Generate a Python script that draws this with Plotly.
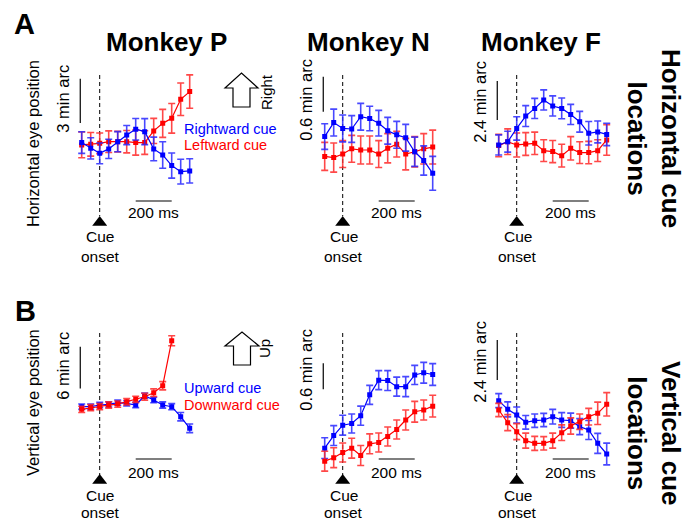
import plotly.graph_objects as go

W, H = 691, 523
FONT = "Liberation Sans, Arial, sans-serif"
BLUE = "#0000ff"
RED = "#ff0000"
BLUE_ERR = "rgba(40,40,255,0.85)"
RED_ERR = "rgba(255,40,40,0.85)"

# ---------------- data (time in ms relative to cue onset, position in min arc) --------------
time_ms = [-100, -50, 0, 50, 100, 150, 200, 250, 300, 350, 400, 450, 500]

# Panel A: horizontal cue locations (blue = rightward cue, red = leftward cue)
ap_blue = [0.05, -0.34, -0.68, -0.38, 0.11, 0.56, 0.95, 0.79, -0.38, -0.79, -1.51, -1.92, -1.87]
ap_blue_err = [0.73, 0.72, 0.70, 0.65, 0.68, 0.65, 0.73, 0.88, 0.80, 0.90, 0.85, 0.84, 0.82]
ap_red = [-0.11, -0.07, 0.00, 0.11, 0.11, 0.11, 0.05, 0.05, 0.84, 1.35, 1.69, 2.98, 3.50]
ap_red_err = [0.87, 0.80, 0.70, 0.73, 0.70, 0.76, 0.85, 0.80, 0.85, 0.95, 1.00, 1.10, 1.13]

an_blue = [0.23, 0.47, 0.37, 0.36, 0.57, 0.54, 0.46, 0.33, 0.26, 0.21, -0.03, -0.18, -0.40]
an_blue_err = [0.22, 0.23, 0.23, 0.23, 0.23, 0.21, 0.22, 0.23, 0.23, 0.23, 0.25, 0.25, 0.29]
an_red = [-0.11, -0.13, -0.07, 0.02, 0.00, 0.00, -0.07, 0.03, 0.10, -0.07, -0.03, 0.02, 0.05]
an_red_err = [0.24, 0.25, 0.23, 0.23, 0.24, 0.24, 0.23, 0.25, 0.22, 0.27, 0.26, 0.26, 0.29]

af_blue = [0.31, 0.51, 1.33, 2.09, 2.56, 3.08, 2.71, 2.56, 2.19, 1.74, 1.03, 1.11, 0.96]
af_blue_err = [0.62, 0.64, 0.72, 0.64, 0.62, 0.62, 0.62, 0.64, 0.62, 0.64, 0.72, 0.67, 0.69]
af_red = [0.27, 0.51, 0.31, 0.37, 0.41, -0.04, -0.10, -0.35, 0.10, -0.16, -0.16, -0.04, 0.62]
af_red_err = [0.69, 0.79, 0.74, 0.70, 0.69, 0.67, 0.68, 0.70, 0.72, 0.67, 0.69, 0.67, 0.94]

# Panel B: vertical cue locations (blue = upward cue, red = downward cue)
bp_blue = [0.00, 0.00, 0.24, 0.34, 0.58, 0.48, 0.24, 1.58, 0.96, 0.24, 0.00, -1.44, -3.12]
bp_blue_err = [0.38, 0.38, 0.38, 0.38, 0.38, 0.38, 0.38, 0.40, 0.40, 0.45, 0.45, 0.60, 0.62]
bp_red = [-0.38, -0.14, 0.00, 0.24, 0.38, 0.72, 1.06, 1.44, 2.02, 3.02, 9.51]
bp_red_err = [0.45, 0.45, 0.45, 0.45, 0.45, 0.45, 0.45, 0.50, 0.55, 0.60, 0.72]

bn_blue = [-0.65, -0.36, -0.12, -0.08, 0.10, 0.58, 0.92, 0.91, 0.77, 0.77, 1.04, 1.09, 1.05]
bn_blue_err = [0.24, 0.23, 0.23, 0.22, 0.22, 0.22, 0.22, 0.23, 0.22, 0.23, 0.22, 0.24, 0.25]
bn_red = [-0.95, -0.87, -0.75, -0.65, -0.82, -0.55, -0.52, -0.38, -0.22, 0.00, 0.19, 0.23, 0.32]
bn_red_err = [0.23, 0.23, 0.22, 0.23, 0.23, 0.23, 0.22, 0.22, 0.22, 0.23, 0.24, 0.23, 0.25]

bf_blue = [1.16, 0.64, 0.30, -0.14, -0.04, 0.00, 0.20, 0.00, -0.04, -0.40, -0.60, -1.40, -2.04]
bf_blue_err = [0.42, 0.45, 0.48, 0.41, 0.40, 0.40, 0.44, 0.44, 0.45, 0.48, 0.57, 0.60, 0.65]
bf_red = [0.60, -0.16, -0.70, -1.24, -1.40, -1.40, -1.24, -0.76, -0.36, -0.10, 0.20, 0.40, 0.94]
bf_red_err = [0.40, 0.48, 0.48, 0.45, 0.42, 0.40, 0.45, 0.47, 0.49, 0.46, 0.50, 0.67, 0.70]

monkeys = ["Monkey P", "Monkey N", "Monkey F"]
scale_labels_A = ["3 min arc", "0.6 min arc", "2.4 min arc"]
scale_labels_B = ["6 min arc", "0.6 min arc", "2.4 min arc"]
scale_len_A = [3.0, 0.6, 2.4]
scale_len_B = [6.0, 0.6, 2.4]
scale_lo_A = [1.37, 0.657, 1.85]
scale_lo_B = [2.64, 0.71, 2.4]
time_bar_ms = [200, 400]
scale_bar_t = -108
cue_onset_ms = 0

# ---------------- layout geometry (pixels) ----------------
PX_PER_MS = 0.18
t0_px = [99.7, 342.7, 516.7]
rowA = dict(v0=[143.3, 150.0, 150.0], ppu=[14.77, 58.33, 16.25], top=50, bottom=268,
            dash=(75, 216), tri=222.5, timebar=201, timetxt=212, cue_top=226.5, onset_top=245.5,
            scale_txt_y=[99, 100, 102])
rowB = dict(v0=[406.7, 420.0, 420.0], ppu=[6.94, 43.33, 16.67], top=312, bottom=523,
            dash=(333, 475), tri=480.5, timebar=459, timetxt=472, cue_top=484.5, onset_top=502,
            scale_txt_y=[366, 370, 362])

fig = go.Figure()
annotations = []
shapes = []

def txt(x, y, text, size, bold=False, color="black", angle=0, xanchor="center", yanchor="middle",
        xref="paper", yref="paper"):
    if bold:
        text = "<b>" + text + "</b>"
    if xref == "paper":
        x = x / W
    if yref == "paper":
        y = 1 - y / H
    annotations.append(dict(x=x, y=y, xref=xref, yref=yref, text=text, showarrow=False,
                            textangle=angle, xanchor=xanchor, yanchor=yanchor,
                            font=dict(family=FONT, size=size, color=color)))

panel_data = [
    [(ap_red, ap_red_err, ap_blue, ap_blue_err), (an_red, an_red_err, an_blue, an_blue_err),
     (af_red, af_red_err, af_blue, af_blue_err)],
    [(bp_blue, bp_blue_err, bp_red, bp_red_err), (bn_blue, bn_blue_err, bn_red, bn_red_err),
     (bf_blue, bf_blue_err, bf_red, bf_red_err)],
]
colors = [[RED, BLUE], [BLUE, RED]]
ecolors = [[RED_ERR, BLUE_ERR], [BLUE_ERR, RED_ERR]]

idx = 0
for r, row in enumerate([rowA, rowB]):
    for c in range(3):
        idx += 1
        sfx = "" if idx == 1 else str(idx)
        t0 = t0_px[c]
        v0 = row["v0"][c]
        ppu = row["ppu"][c]
        left, right = t0 - 32, t0 + 112
        xd = lambda px, t0=t0: (px - t0) / PX_PER_MS
        yd = lambda py, v0=v0, ppu=ppu: (v0 - py) / ppu
        fig.update_layout(**{
            "xaxis" + sfx: dict(domain=[left / W, right / W], range=[xd(left), xd(right)],
                                visible=False, fixedrange=True, anchor="y" + sfx),
            "yaxis" + sfx: dict(domain=[1 - row["bottom"] / H, 1 - row["top"] / H],
                                range=[yd(row["bottom"]), yd(row["top"])],
                                visible=False, fixedrange=True, anchor="x" + sfx),
        })
        xa, ya = "x" + sfx, "y" + sfx
        # cue onset dashed line and marker
        fig.add_trace(go.Scatter(x=[cue_onset_ms, cue_onset_ms], y=[yd(row["dash"][0]), yd(row["dash"][1])],
                                 mode="lines", line=dict(color="black", width=1, dash="4px,3px"),
                                 xaxis=xa, yaxis=ya, hoverinfo="skip"))
        fig.add_trace(go.Scatter(x=[cue_onset_ms], y=[yd(row["tri"])], mode="markers",
                                 marker=dict(symbol="triangle-up", size=13, color="black"),
                                 xaxis=xa, yaxis=ya, hoverinfo="skip"))
        # scale bars
        lo = (scale_lo_A if r == 0 else scale_lo_B)[c]
        ln = (scale_len_A if r == 0 else scale_len_B)[c]
        fig.add_trace(go.Scatter(x=[scale_bar_t, scale_bar_t], y=[lo, lo + ln], mode="lines",
                                 line=dict(color="black", width=1.2), xaxis=xa, yaxis=ya, hoverinfo="skip"))
        fig.add_trace(go.Scatter(x=time_bar_ms, y=[yd(row["timebar"])] * 2, mode="lines",
                                 line=dict(color="black", width=1.2), xaxis=xa, yaxis=ya, hoverinfo="skip"))
        # data series
        s1, e1, s2, e2 = panel_data[r][c]
        for k, (s, e) in enumerate([(s1, e1), (s2, e2)]):
            fig.add_trace(go.Scatter(
                x=time_ms[:len(s)], y=s, mode="lines+markers",
                line=dict(color=colors[r][k], width=1.2),
                marker=dict(symbol="square", size=5, color=colors[r][k]),
                error_y=dict(type="data", array=e, color=ecolors[r][k], thickness=1.6, width=3.5),
                xaxis=xa, yaxis=ya, hoverinfo="skip"))
        # texts
        txt(t0 + 0.8, row["cue_top"], "Cue", 15.5, yanchor="top")
        txt(t0 + 0.8, row["onset_top"], "onset", 15.5, yanchor="top")
        txt(sum(time_bar_ms) / 2, yd(row["timetxt"]), "200 ms", 15.5, xref=xa, yref=ya)
        lbl = (scale_labels_A if r == 0 else scale_labels_B)[c]
        txt(t0 - 37, row["scale_txt_y"][c], lbl, 16.5, angle=-90)

# titles
for c, name in enumerate(monkeys):
    txt([166, 368, 541][c], 42, name, 26, bold=True)

txt(24, 24, "A", 29, bold=True)
txt(25, 311, "B", 29, bold=True)
txt(33, 144, "Horizontal eye position", 16.5, angle=-90)
txt(33, 403, "Vertical eye position", 16.5, angle=-90)
txt(654, 138, "Horizontal cue<br>locations", 26, bold=True, angle=90)
txt(654, 433, "Vertical cue<br>locations", 26, bold=True, angle=90)

# legends
txt(182, 129, "Rightward cue", 14.5, color=BLUE, xanchor="left")
txt(182, 145, "Leftward cue", 14.5, color=RED, xanchor="left")
txt(182, 388, "Upward cue", 14.5, color=BLUE, xanchor="left")
txt(182, 405, "Downward cue", 14.5, color=RED, xanchor="left")

# direction arrows
def arrow_path(cx, top, headbase, bottom, headhalf, shafthalf):
    pts = [(cx - shafthalf, bottom), (cx - shafthalf, headbase), (cx - headhalf, headbase), (cx, top),
           (cx + headhalf, headbase), (cx + shafthalf, headbase), (cx + shafthalf, bottom)]
    return "M " + " L ".join(f"{x / W:.5f},{1 - y / H:.5f}" for x, y in pts) + " Z"

shapes.append(dict(type="path", xref="paper", yref="paper", path=arrow_path(241.5, 73, 88, 107, 16.5, 8.5),
                   line=dict(color="black", width=1.2), fillcolor="white"))
shapes.append(dict(type="path", xref="paper", yref="paper", path=arrow_path(242, 332, 346, 365, 17, 8.5),
                   line=dict(color="black", width=1.2), fillcolor="white"))
txt(266, 92, "Right", 15, angle=-90)
txt(264, 349, "Up", 15, angle=-90)

fig.update_layout(width=W, height=H, margin=dict(l=0, r=0, t=0, b=0), showlegend=False,
                  paper_bgcolor="white", plot_bgcolor="rgba(0,0,0,0)",
                  annotations=annotations, shapes=shapes)
fig.write_html("out.html", config={"displayModeBar": False})
